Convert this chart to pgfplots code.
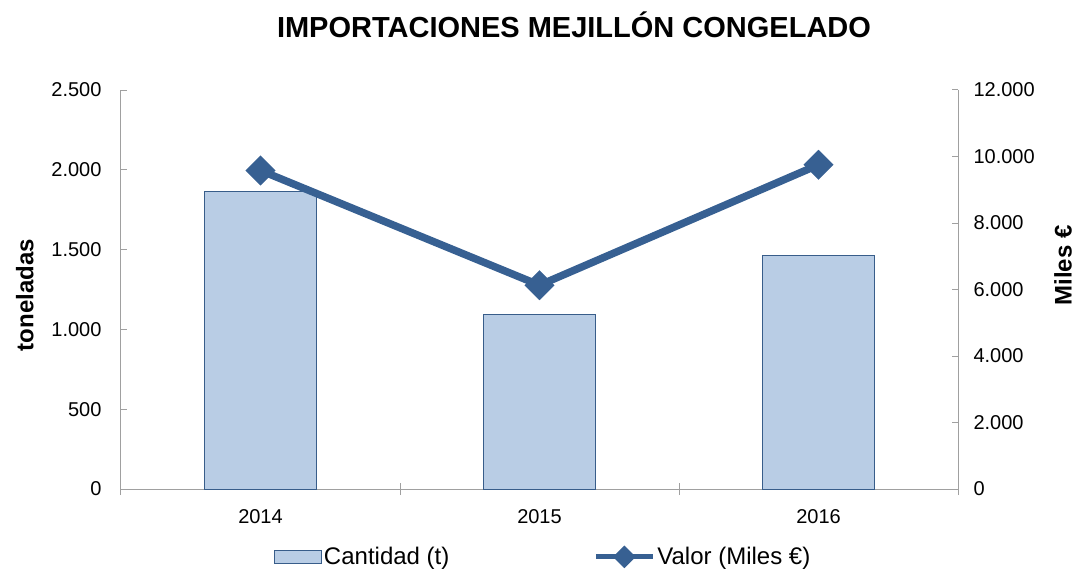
\documentclass[border=0pt]{standalone}
\usepackage{pgfplots}
\pgfplotsset{compat=1.18}
\usepackage{fontspec}
\setmainfont{Liberation Sans}
\definecolor{barfill}{RGB}{185,205,229}
\definecolor{bardraw}{RGB}{56,93,138}
\definecolor{linecol}{RGB}{55,96,146}
\definecolor{axgray}{RGB}{160,160,160}

\pgfplotsset{
  base/.style={scale only axis, width=837pt, height=399pt,
    xmin=-0.5, xmax=2.5,
    axis line style={axgray, line width=1pt},
    tick style={axgray, line width=1pt}, major tick length=6pt,
    ticklabel style={font=\fontsize{20}{22}\selectfont},
    /pgf/number format/assume math mode=true,
    /pgf/number format/1000 sep={.}, scaled y ticks=false,
    label style={font=\bfseries\fontsize{24}{26}\selectfont},
  }
}

\begin{document}
\begin{tikzpicture}
\path[use as bounding box] (-121pt,-82pt) rectangle (954pt,489pt);

% eje izquierdo: toneladas
\begin{axis}[base,
  axis y line*=left, axis x line*=bottom,
  ymin=0, ymax=2500, ytick={0,500,...,2500}, ytick align=inside,
  yticklabel style={xshift=-16pt},
  xtick={0,1,2}, xticklabels={2014,2015,2016},
  major x tick style={draw=none},
  minor xtick={-0.5,0.5,1.5,2.5}, minor tick length=12pt, xtick align=center,
  xticklabel style={yshift=-14pt},
  ylabel={toneladas},
  ylabel style={at={(axis description cs:-0.115,0.486)}, anchor=center},
]
\addplot[ybar, bar width=0.4, fill=barfill, draw=bardraw, line width=0.8pt]
  coordinates {(0,1865) (1,1095) (2,1465)};
\end{axis}

% eje derecho: miles de euros
\begin{axis}[base,
  axis y line*=right, axis x line=none,
  ymin=0, ymax=12000, ytick={0,2000,...,12000}, ytick align=inside,
  yticklabel style={xshift=12pt},
  ylabel={Miles €},
  ylabel style={at={(axis description cs:1.1255,0.56)}, anchor=center},
  legend columns=2,
  legend style={at={(axis description cs:0.1792,-0.170)}, anchor=west,
    draw=none, fill=none, font=\fontsize{24}{26}\selectfont,
    /tikz/every even column/.append style={column sep=142pt}},
]
\addlegendimage{legend image code/.code={
  \draw[fill=barfill, draw=bardraw, line width=0.8pt] (0pt,-6.5pt) rectangle (47pt,6.5pt);}}
\addlegendentry{Cantidad (t)}
\addplot[linecol, line width=7.5pt, mark=square*, mark size=10.5pt,
  mark options={rotate=45, solid, line width=0.1pt, fill=linecol},
  legend image code/.code={
    \draw[linecol, line width=5pt] (0pt,0pt) -- (57pt,0pt);
    \fill[linecol] (28.5pt,6pt) -- (34.5pt,0pt) -- (28.5pt,-6pt) -- (22.5pt,0pt) -- cycle;}]
  coordinates {(0,9580) (1,6130) (2,9750)};
\addlegendentry{Valor (Miles €)}
\end{axis}

\node[font=\bfseries\fontsize{29}{32}\selectfont] at (453pt,464pt)
  {IMPORTACIONES MEJILLÓN CONGELADO};
\end{tikzpicture}
\end{document}
